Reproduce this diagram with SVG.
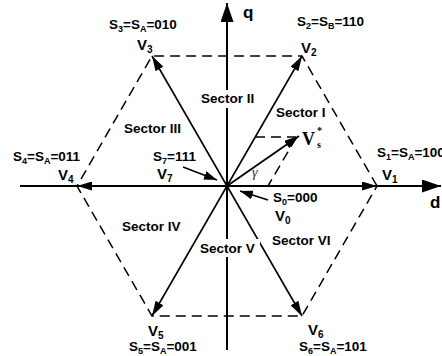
<svg xmlns="http://www.w3.org/2000/svg" width="442" height="356" viewBox="0 0 442 356">
<defs>
<marker id="ah" markerUnits="userSpaceOnUse" markerWidth="15" markerHeight="9" refX="15" refY="4.5" orient="auto"><path d="M0,0 L15,4.5 L0,9 z" fill="#000"/></marker>
<marker id="axh" markerUnits="userSpaceOnUse" markerWidth="19" markerHeight="13" refX="19" refY="6.5" orient="auto"><path d="M0,0 L19,6.5 L0,13 z" fill="#000"/></marker>
<marker id="sh" markerUnits="userSpaceOnUse" markerWidth="13" markerHeight="9" refX="13" refY="4.5" orient="auto"><path d="M0,0 L13,4.5 L0,9 z" fill="#000"/></marker>
<style>
.t{font-family:"Liberation Sans",Arial,sans-serif;font-weight:bold;font-size:13.5px;fill:#000}
.v{font-family:"Liberation Sans",Arial,sans-serif;font-weight:bold;font-size:15px;fill:#000}
.ax{stroke:#000;stroke-width:2;fill:none}
.vec{stroke:#000;stroke-width:1.6;fill:none;marker-end:url(#ah)}
.dash{stroke:#000;stroke-width:1.5;fill:none;stroke-dasharray:10 6}
.lbl{stroke:#000;stroke-width:1.6;fill:none;marker-end:url(#sh)}
</style>
</defs>
<rect width="442" height="356" fill="#fff"/>
<g id="axes">
<line class="ax" x1="20" y1="186" x2="441" y2="186" marker-end="url(#axh)"/>
<line class="ax" x1="227" y1="350" x2="227" y2="3" marker-end="url(#axh)"/>
<text class="t" x="243" y="18" style="font-size:17px">q</text>
<text class="t" x="430" y="208" style="font-size:17px">d</text>
</g>
<g id="hexagon">
<polygon class="dash" points="377,186 302,56 152,56 77,186 152,316 302,316"/>
</g>
<g id="connectors">
<line class="vec" x1="227" y1="186" x2="377" y2="186"/>
<line class="vec" x1="227" y1="186" x2="302" y2="56"/>
<line class="vec" x1="227" y1="186" x2="152" y2="56"/>
<line class="vec" x1="227" y1="186" x2="77" y2="186"/>
<line class="vec" x1="227" y1="186" x2="152" y2="316"/>
<line class="vec" x1="227" y1="186" x2="302" y2="316"/>
<line class="vec" x1="227" y1="186" x2="299" y2="136" style="stroke-width:1.8"/>
<line class="dash" x1="255" y1="137" x2="296" y2="137"/>
<line class="dash" x1="296" y1="138" x2="268" y2="186"/>
<line class="lbl" x1="183" y1="167" x2="217" y2="180"/>
<line class="lbl" x1="268" y1="200" x2="240" y2="191"/>
<circle cx="227" cy="186" r="2.5" fill="#000"/>
</g>
<g id="sectors">
<rect x="199" y="90" width="58" height="18" fill="#fff"/>
<text class="t" x="201" y="103">Sector II</text>
<rect x="198" y="239" width="62" height="18" fill="#fff"/>
<text class="t" x="200" y="253">Sector V</text>
<text class="t" x="276" y="117">Sector I</text>
<text class="t" x="124" y="133">Sector III</text>
<text class="t" x="122" y="231">Sector IV</text>
<text class="t" x="272" y="245">Sector VI</text>
</g>
<g id="v1"><text class="t" x="377" y="157">S<tspan font-size="9" dy="2.5">1</tspan><tspan dy="-2.5">=S</tspan><tspan font-size="9" dy="2.5">A</tspan><tspan dy="-2.5">=100</tspan></text>
<text class="v" x="382" y="180">V<tspan font-size="10" dy="3">1</tspan></text></g>
<g id="v2"><text class="t" x="297" y="26">S<tspan font-size="9" dy="2.5">2</tspan><tspan dy="-2.5">=S</tspan><tspan font-size="9" dy="2.5">B</tspan><tspan dy="-2.5">=110</tspan></text>
<text class="v" x="301" y="53">V<tspan font-size="10" dy="3">2</tspan></text></g>
<g id="v3"><text class="t" x="109" y="29">S<tspan font-size="9" dy="2.5">3</tspan><tspan dy="-2.5">=S</tspan><tspan font-size="9" dy="2.5">A</tspan><tspan dy="-2.5">=010</tspan></text>
<text class="v" x="137" y="50">V<tspan font-size="10" dy="3">3</tspan></text></g>
<g id="v4"><text class="t" x="13" y="161">S<tspan font-size="9" dy="2.5">4</tspan><tspan dy="-2.5">=S</tspan><tspan font-size="9" dy="2.5">A</tspan><tspan dy="-2.5">=011</tspan></text>
<text class="v" x="58" y="180">V<tspan font-size="10" dy="3">4</tspan></text></g>
<g id="v5"><text class="v" x="148" y="336">V<tspan font-size="10" dy="3">5</tspan></text>
<text class="t" x="129" y="351">S<tspan font-size="9" dy="2.5">5</tspan><tspan dy="-2.5">=S</tspan><tspan font-size="9" dy="2.5">A</tspan><tspan dy="-2.5">=001</tspan></text></g>
<g id="v6"><text class="v" x="308" y="335">V<tspan font-size="10" dy="3">6</tspan></text>
<text class="t" x="299" y="351">S<tspan font-size="9" dy="2.5">6</tspan><tspan dy="-2.5">=S</tspan><tspan font-size="9" dy="2.5">A</tspan><tspan dy="-2.5">=101</tspan></text></g>
<g id="v7"><text class="t" x="153" y="161">S<tspan font-size="9" dy="2.5">7</tspan><tspan dy="-2.5">=111</tspan></text>
<text class="v" x="157" y="179">V<tspan font-size="10" dy="3">7</tspan></text></g>
<g id="v0"><text class="t" x="273" y="202">S<tspan font-size="9" dy="2.5">0</tspan><tspan dy="-2.5">=000</tspan></text>
<text class="v" x="275" y="221">V<tspan font-size="10" dy="3">0</tspan></text></g>
<g id="vs"><text x="302" y="145" style="font-family:'Liberation Serif','Times New Roman',serif;font-weight:bold;font-size:18px">V<tspan font-size="10" dx="2" dy="-11">*</tspan><tspan font-size="10" dx="-5" dy="14">s</tspan></text>
<text x="252" y="177" style="font-family:'Liberation Serif','Times New Roman',serif;font-style:italic;font-size:14px;fill:#333">γ</text></g>
</svg>
